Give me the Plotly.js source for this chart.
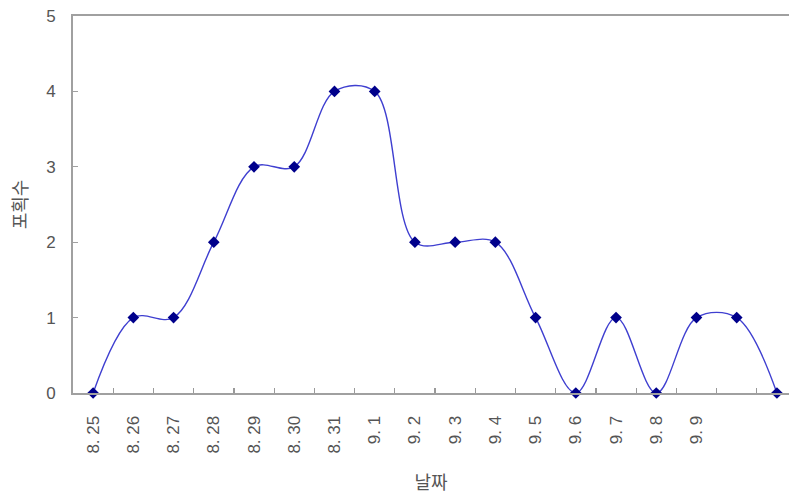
<!DOCTYPE html>
<html>
<head>
<meta charset="utf-8">
<script src="https://cdn.plot.ly/plotly-3.0.1.min.js"></script>
<style>
  html, body { margin: 0; padding: 0; background: #fff; }
  #chart { width: 789px; height: 501px; }
</style>
</head>
<body>
<div id="chart"></div>
<script>
// Daily catch counts; the last two days carry no date label on the axis.
const dateLabels = ["8. 25", "8. 26", "8. 27", "8. 28", "8. 29", "8. 30", "8. 31",
                    "9. 1", "9. 2", "9. 3", "9. 4", "9. 5", "9. 6", "9. 7", "9. 8", "9. 9"];
const catchCounts = [0, 1, 1, 2, 3, 3, 4, 4, 2, 2, 2, 1, 0, 1, 0, 1, 1, 0];

const xIndex = catchCounts.map((_, i) => i);
const labelIndex = dateLabels.map((_, i) => i);
// small tick marks sit halfway between neighbouring days
const dividerIndex = catchCounts.slice(1).map((_, i) => i + 0.5);

const axisGray = "#a0a0a0";
const labelFont = { family: "Liberation Sans, Arial, sans-serif", size: 17, color: "#555" };
const titleFont = { family: "Noto Sans CJK KR, sans-serif", size: 18, color: "#555" };
const xRange = [-0.5, 17.3];

const trace = {
  x: xIndex,
  y: catchCounts,
  type: "scatter",
  mode: "lines+markers",
  line: { color: "#3f3fd0", width: 1.4, shape: "spline", smoothing: 1 },
  marker: { symbol: "diamond", size: 9, color: "#00008b" },
  cliponaxis: false,
  hoverinfo: "skip"
};

const layout = {
  width: 789,
  height: 501,
  margin: { l: 73, r: 0, t: 16, b: 108 },
  paper_bgcolor: "#ffffff",
  plot_bgcolor: "#ffffff",
  showlegend: false,
  xaxis: {
    range: xRange,
    tickmode: "array",
    tickvals: labelIndex,
    ticktext: dateLabels,
    tickangle: -90,
    ticks: "inside",
    ticklen: 0.01,
    tickcolor: "rgba(0,0,0,0)",
    minor: {
      tickmode: "array",
      tickvals: dividerIndex,
      ticks: "inside",
      ticklen: 5,
      tickwidth: 1.2,
      tickcolor: "#999",
      showgrid: false
    },
    ticklabelstandoff: 14,
    tickfont: labelFont,
    showgrid: false,
    zeroline: false,
    showline: true,
    linecolor: axisGray,
    linewidth: 2,
    mirror: true,
    title: { text: "날짜", font: titleFont, standoff: 24 },
    fixedrange: true
  },
  yaxis: {
    range: [0, 5],
    tickmode: "linear",
    tick0: 0,
    dtick: 1,
    ticks: "inside",
    ticklen: 5,
    tickcolor: axisGray,
    ticklabelstandoff: 12,
    tickfont: { family: "Liberation Sans, Arial, sans-serif", size: 17, color: "#555" },
    showgrid: false,
    zeroline: false,
    showline: true,
    linecolor: axisGray,
    linewidth: 2,
    title: { text: "포획수", font: titleFont, standoff: 14 },
    fixedrange: true
  }
};

Plotly.newPlot("chart", [trace], layout, { displayModeBar: false, staticPlot: true });
</script>
</body>
</html>
